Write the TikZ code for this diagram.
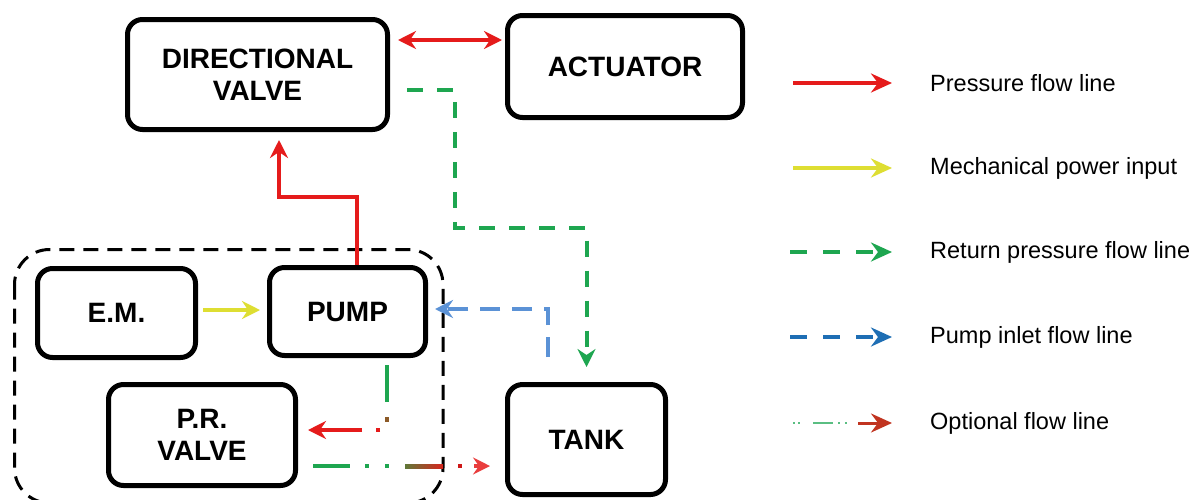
\documentclass[tikz,border=0pt]{standalone}
\usepackage{fontspec}
\setmainfont{Liberation Sans}
\usetikzlibrary{arrows.meta,calc}
\definecolor{pred}{RGB}{229,27,27}
\definecolor{myel}{RGB}{222,222,50}
\definecolor{rgreen}{RGB}{30,166,80}
\definecolor{lblue}{RGB}{91,146,214}
\definecolor{dblue}{RGB}{30,110,180}
\definecolor{obrown}{RGB}{140,90,40}
\definecolor{ogreen}{RGB}{90,190,130}
\tikzset{
  blk/.style={draw=black, line width=5pt, rounded corners=15pt, align=center,
    font=\bfseries\fontsize{28}{32}\selectfont, inner sep=0pt},
  hd/.style={-{Stealth[length=18pt,width=18pt,inset=6pt]}},
  lhd/.style={-{Stealth[length=21pt,width=19pt,inset=7pt]}},
  fl/.style={line width=4pt},
  presl/.style={fl, pred, hd},
  mechl/.style={fl, myel, hd},
  retl/.style={fl, rgreen, hd, dash pattern=on 16pt off 14pt},
  inl/.style={fl, lblue, hd, dash pattern=on 20pt off 12pt},
  legtxt/.style={anchor=west, inner sep=0pt, font=\fontsize{23.5}{26}\selectfont},
}
\begin{document}
\begin{tikzpicture}[x=1pt,y=-1pt]
\useasboundingbox[fill=white] (0,0) rectangle (1198,499);
% enclosure
\draw[line width=3pt, dash pattern=on 15pt off 9pt, rounded corners=35pt] (14.5,249.5) rectangle (443,503);
% boxes
\node[blk, minimum width=260pt, minimum height=110pt] (DV) at (257.5,74.5) {DIRECTIONAL\\VALVE};
\node[blk, minimum width=235pt, minimum height=102pt] (ACT) at (625,66.5) {ACTUATOR};
\node[blk, minimum width=158pt, minimum height=89pt] (EM) at (116.5,313) {E.M.};
\node[blk, minimum width=156pt, minimum height=88pt] (PUMP) at (347.5,311.5) {PUMP};
\node[blk, minimum width=187pt, minimum height=101pt] (PRV) at (202,435) {P.R.\\VALVE};
\node[blk, minimum width=158pt, minimum height=110pt] (TANK) at (586.5,439.5) {TANK};
% connectors
\draw[fl, pred, {Stealth[length=18pt,width=18pt,inset=6pt]}-{Stealth[length=18pt,width=18pt,inset=6pt]}]
  ($(DV.north east)+(8,23)$) -- ($(ACT.north west)+(-3,27)$);
\draw[presl] ($(PUMP.north)+(9.5,0)$) -- ++(0,-68) -| ($(DV.south)+(21.5,8)$);
\draw[retl] ($(DV.east)+(17,15.5)$) -- ++(48,0) -- ++(0,138) -| ($(TANK.north)+(0,-15)$);
\draw[inl] ($(TANK.north)+(-38.5,-25)$) |- ($(PUMP.east)+(7,-2.5)$);
\draw[mechl] ($(EM.east)+(5,-3)$) -- ($(PUMP.west)+(-7,-1.5)$);
% optional line from pump to P.R. valve
\coordinate (o1) at ($(PUMP.south)+(39.5,7)$);
\draw[fl, rgreen] (o1) -- ++(0,37);
\draw[fl, obrown] ($(o1)+(0,52)$) -- ++(0,5);
\draw[fl, pred] ($(o1)+(-7,65)$) -- ++(-4,0);
\draw[presl] ($(o1)+(-25,65)$) -- ($(PRV.east)+(10,-5)$);
% optional line from P.R. valve to tank
\coordinate (o2) at ($(PRV.east)+(15,31)$);
\coordinate (o3) at ($(TANK.west |- o2)+(-15,0)$);
\draw[fl, rgreen] (o2) -- ++(37,0);
\draw[fl, rgreen] ($(o2)+(52,0)$) -- ++(4,0);
\draw[fl, rgreen] ($(o2)+(72,0)$) -- ++(4,0);
\shade[left color=obrown!60!rgreen, right color=pred!85!obrown] ($(o2)+(92,-2)$) rectangle ($(o2)+(130,2)$);
\draw[fl, pred!90!black] ($(o2)+(145,0)$) -- ++(4,0);
\draw[fl, pred!85!white, -{Stealth[length=17pt,width=17pt,inset=6pt]}] ($(o3)+(-16,0)$) -- (o3);
% legend
\coordinate (l1) at (793,83);
\coordinate (l2) at (793,168);
\coordinate (l3) at (793,252);
\coordinate (l4) at (793,337);
\coordinate (l5) at (793,423);
\draw[fl, pred, lhd] (l1) -- ++(99,0);
\draw[fl, myel, lhd] (l2) -- ++(99,0);
\draw[fl, rgreen, lhd, dash pattern=on 17pt off 16pt] ($(l3)+(-3,0)$) -- ++(102,0);
\draw[fl, dblue, lhd, dash pattern=on 17pt off 16pt] ($(l4)+(-3,0)$) -- ++(102,0);
\draw[line width=2pt, ogreen] ($(l5)+(0,0)$) -- ++(1.5,0);
\draw[line width=2pt, ogreen] ($(l5)+(5,0)$) -- ++(1.5,0);
\draw[line width=2.5pt, ogreen] ($(l5)+(20,0)$) -- ++(20,0);
\draw[line width=2pt, ogreen] ($(l5)+(45,0)$) -- ++(1.5,0);
\draw[line width=2pt, ogreen] ($(l5)+(52,0)$) -- ++(1.5,0);
\draw[line width=3pt, obrown!40!pred, lhd] ($(l5)+(65,0)$) -- ++(34,0);
\node[legtxt] (t1) at (930,83) {Pressure flow line};
\node[legtxt] (t2) at (930,168) {Mechanical power input};
\node[legtxt] (t3) at (930,252) {Return pressure flow line};
\node[legtxt] (t4) at (930,337) {Pump inlet flow line};
\node[legtxt] (t5) at (930,423) {Optional flow line};
\end{tikzpicture}
\end{document}
